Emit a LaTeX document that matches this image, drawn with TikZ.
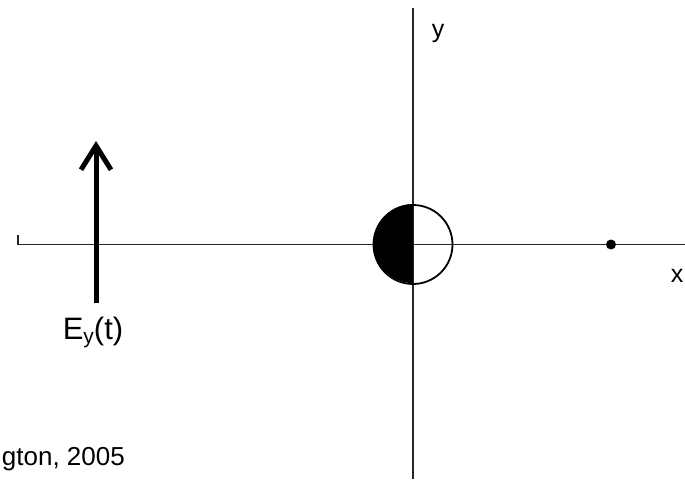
\documentclass[tikz,border=0pt]{standalone}
\usepackage{fontspec}
\setmainfont{Liberation Sans}
\usetikzlibrary{arrows.meta}

\begin{document}
\begin{tikzpicture}[
    x=1pt, y=-1pt,
    axis/.style={line width=1.3pt, draw=black!85},
    field/.style={line width=5pt, -{Straight Barb[length=24pt, width=30pt, line width=5pt]}},
    axlabel/.style={font=\fontsize{25}{27}\selectfont, inner sep=0pt},
    credit/.style={font=\fontsize{26}{28}\selectfont, inner sep=0pt, anchor=east}
]
\useasboundingbox (0,0) rectangle (685,479);

% 1. Axes
\coordinate (tick) at (18,235);
\coordinate (xstart) at (18,244.5);
\coordinate (xend) at (685,244.5);
\coordinate (ytop) at (413,8);
\coordinate (ybot) at (413,479);
\draw[axis] (tick) -- (xstart) -- (xend);
\draw[axis] (ytop) -- (ybot);
\node[axlabel] (xlabel) at (677,276) {x};
\node[axlabel] (ylabel) at (438,33) {y};

% 2. Particle and point
\node[draw, circle, line width=1.8pt, minimum size=79pt, inner sep=0pt] (atom) at (413,244.5) {};
\fill (atom.north) arc[start angle=270, end angle=90, radius=39.5] -- cycle;
\node[circle, fill, inner sep=0pt, minimum size=10pt] (dot) at (611,244.5) {};

% 3. Field
\coordinate (Ebot) at (96,303);
\coordinate (Etop) at (96,141);
\draw[field] (Ebot) -- (Etop);
\node[axlabel, font=\fontsize{31}{33}\selectfont] (Elabel) at (93,332) {E\raisebox{-0.25ex}{\fontsize{21}{22}\selectfont y}(t)};

% 4. Credit
\node[credit] (source) at (125,459) {gton, 2005};

\end{tikzpicture}
\end{document}
